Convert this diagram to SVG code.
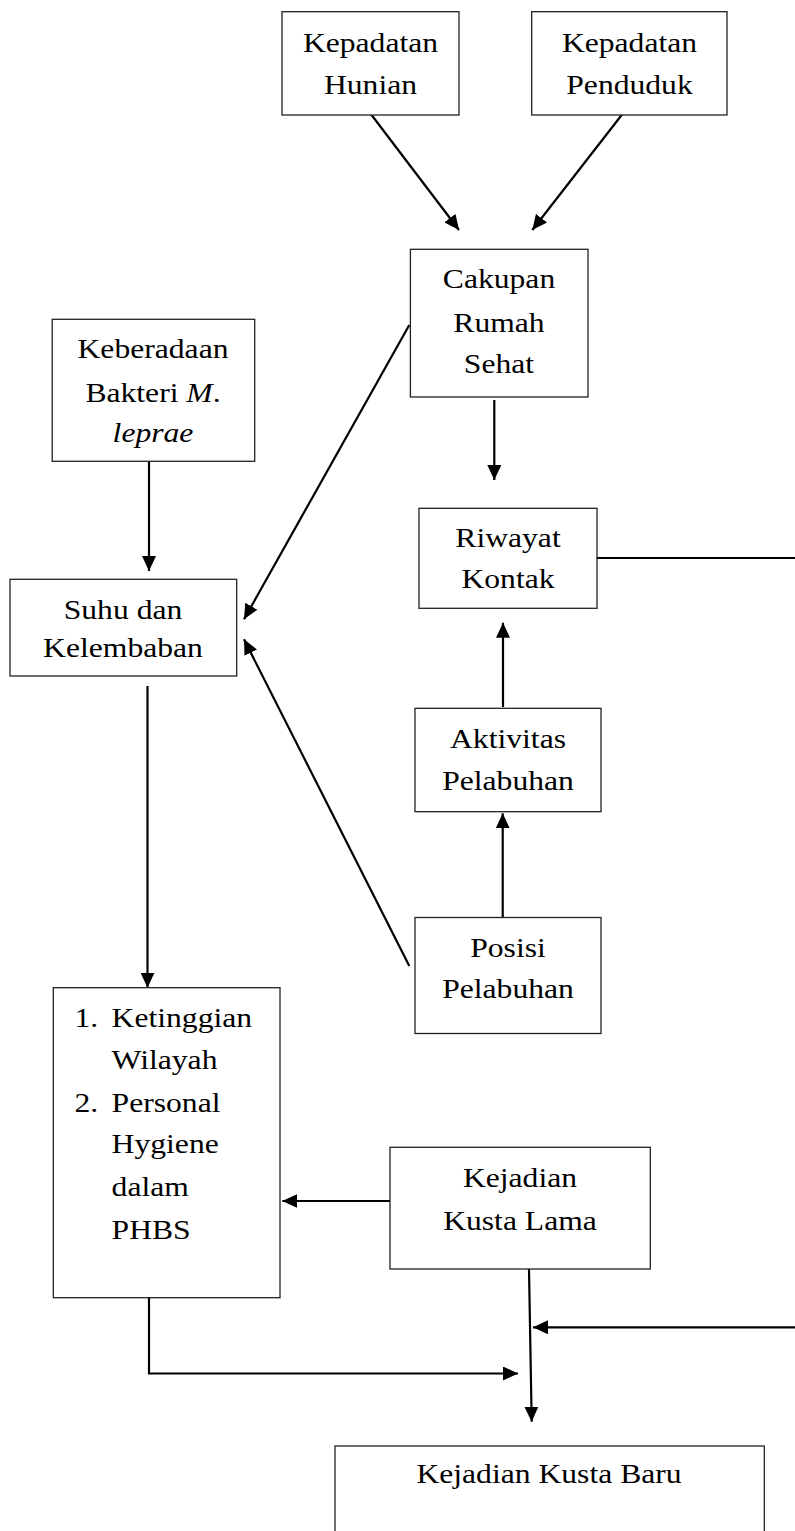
<svg xmlns="http://www.w3.org/2000/svg" width="795" height="1531" viewBox="0 0 795 1531">
<style>
.box{fill:#fff;stroke:#222;stroke-width:1.3}
.t{font-family:"Liberation Serif","Times New Roman",serif;font-size:28px;fill:#000}
.c{text-anchor:middle}
.ln{fill:none;stroke:#000;stroke-width:2.2}
</style>
<defs>
<marker id="ah" markerUnits="userSpaceOnUse" markerWidth="16" markerHeight="14" refX="15" refY="7" orient="auto" viewBox="0 0 16 14">
<path d="M0,0 L15,7 L0,14 z" fill="#000"/>
</marker>
</defs>
<rect width="795" height="1531" fill="#fff"/>
<g id="connectors">
<line class="ln" x1="369.3" y1="112" x2="459" y2="230" marker-end="url(#ah)"/>
<line class="ln" x1="624" y1="112" x2="532.3" y2="230" marker-end="url(#ah)"/>
<line class="ln" x1="409.3" y1="325" x2="244" y2="619.3" marker-end="url(#ah)"/>
<line class="ln" x1="409.3" y1="966" x2="244" y2="639.3" marker-end="url(#ah)"/>
<line class="ln" x1="149" y1="461" x2="149" y2="571" marker-end="url(#ah)"/>
<line class="ln" x1="147.5" y1="686" x2="147.5" y2="987.7" marker-end="url(#ah)"/>
<line class="ln" x1="494.3" y1="400" x2="494.3" y2="480" marker-end="url(#ah)"/>
<line class="ln" x1="503" y1="707" x2="503" y2="622.7" marker-end="url(#ah)"/>
<line class="ln" x1="502.7" y1="917" x2="502.7" y2="813.3" marker-end="url(#ah)"/>
<line class="ln" x1="597" y1="558" x2="795" y2="558"/>
<line class="ln" x1="391.5" y1="1201" x2="282.3" y2="1201" marker-end="url(#ah)"/>
<line class="ln" x1="529" y1="1269" x2="531.7" y2="1421.7" marker-end="url(#ah)"/>
<line class="ln" x1="795" y1="1327.3" x2="533" y2="1327.3" marker-end="url(#ah)"/>
<path class="ln" d="M149,1298 V1373.5 H518" marker-end="url(#ah)"/>
</g>
<g id="kepadatan-hunian">
<rect class="box" x="282" y="11.7" width="177" height="103.3"/>
<text class="t c" transform="translate(370.5,52) scale(1.13,1)">Kepadatan</text>
<text class="t c" transform="translate(370.5,94.3) scale(1.13,1)">Hunian</text>
</g>
<g id="kepadatan-penduduk">
<rect class="box" x="531.7" y="11.7" width="195.3" height="103.3"/>
<text class="t c" transform="translate(629.5,52) scale(1.13,1)">Kepadatan</text>
<text class="t c" transform="translate(629.5,94.3) scale(1.13,1)">Penduduk</text>
</g>
<g id="cakupan-rumah-sehat">
<rect class="box" x="410.4" y="249.3" width="177.6" height="147.7"/>
<text class="t c" transform="translate(499,288) scale(1.13,1)">Cakupan</text>
<text class="t c" transform="translate(499,331.7) scale(1.13,1)">Rumah</text>
<text class="t c" transform="translate(499,373) scale(1.13,1)">Sehat</text>
</g>
<g id="keberadaan-bakteri">
<rect class="box" x="52.2" y="319.3" width="202.5" height="142"/>
<text class="t c" transform="translate(153,358) scale(1.13,1)">Keberadaan</text>
<text class="t c" transform="translate(153,401.7) scale(1.13,1)">Bakteri <tspan font-style="italic">M</tspan>.</text>
<text class="t c" transform="translate(153,442) scale(1.13,1)" font-style="italic">leprae</text>
</g>
<g id="suhu-kelembaban">
<rect class="box" x="10" y="579.3" width="226.7" height="96.7"/>
<text class="t c" transform="translate(123,619) scale(1.13,1)">Suhu dan</text>
<text class="t c" transform="translate(123,657) scale(1.13,1)">Kelembaban</text>
</g>
<g id="riwayat-kontak">
<rect class="box" x="419" y="508.3" width="178" height="100"/>
<text class="t c" transform="translate(508,546.7) scale(1.13,1)">Riwayat</text>
<text class="t c" transform="translate(508,588.3) scale(1.13,1)">Kontak</text>
</g>
<g id="aktivitas-pelabuhan">
<rect class="box" x="415" y="708.3" width="186" height="103.4"/>
<text class="t c" transform="translate(508,748.3) scale(1.13,1)">Aktivitas</text>
<text class="t c" transform="translate(508,790) scale(1.13,1)">Pelabuhan</text>
</g>
<g id="posisi-pelabuhan">
<rect class="box" x="415" y="917.5" width="186" height="116"/>
<text class="t c" transform="translate(508,956.7) scale(1.13,1)">Posisi</text>
<text class="t c" transform="translate(508,998.3) scale(1.13,1)">Pelabuhan</text>
</g>
<g id="ketinggian-phbs">
<rect class="box" x="53.3" y="987.7" width="226.7" height="310"/>
<text class="t" transform="translate(74.4,1026.7) scale(1.13,1)">1.</text>
<text class="t" transform="translate(111.6,1026.7) scale(1.13,1)">Ketinggian</text>
<text class="t" transform="translate(111.6,1069.3) scale(1.13,1)">Wilayah</text>
<text class="t" transform="translate(74.4,1111.7) scale(1.13,1)">2.</text>
<text class="t" transform="translate(111.6,1111.7) scale(1.13,1)">Personal</text>
<text class="t" transform="translate(111.6,1153.3) scale(1.13,1)">Hygiene</text>
<text class="t" transform="translate(111.6,1195.5) scale(1.13,1)">dalam</text>
<text class="t" transform="translate(111.6,1238.5) scale(1.13,1)">PHBS</text>
</g>
<g id="kejadian-kusta-lama">
<rect class="box" x="390" y="1147.3" width="260.3" height="121.7"/>
<text class="t c" transform="translate(520,1186.7) scale(1.13,1)">Kejadian</text>
<text class="t c" transform="translate(520,1230) scale(1.13,1)">Kusta Lama</text>
</g>
<g id="kejadian-kusta-baru">
<rect class="box" x="335" y="1446" width="429.3" height="120"/>
<text class="t c" transform="translate(549,1483.3) scale(1.13,1)">Kejadian Kusta Baru</text>
</g>
</svg>
